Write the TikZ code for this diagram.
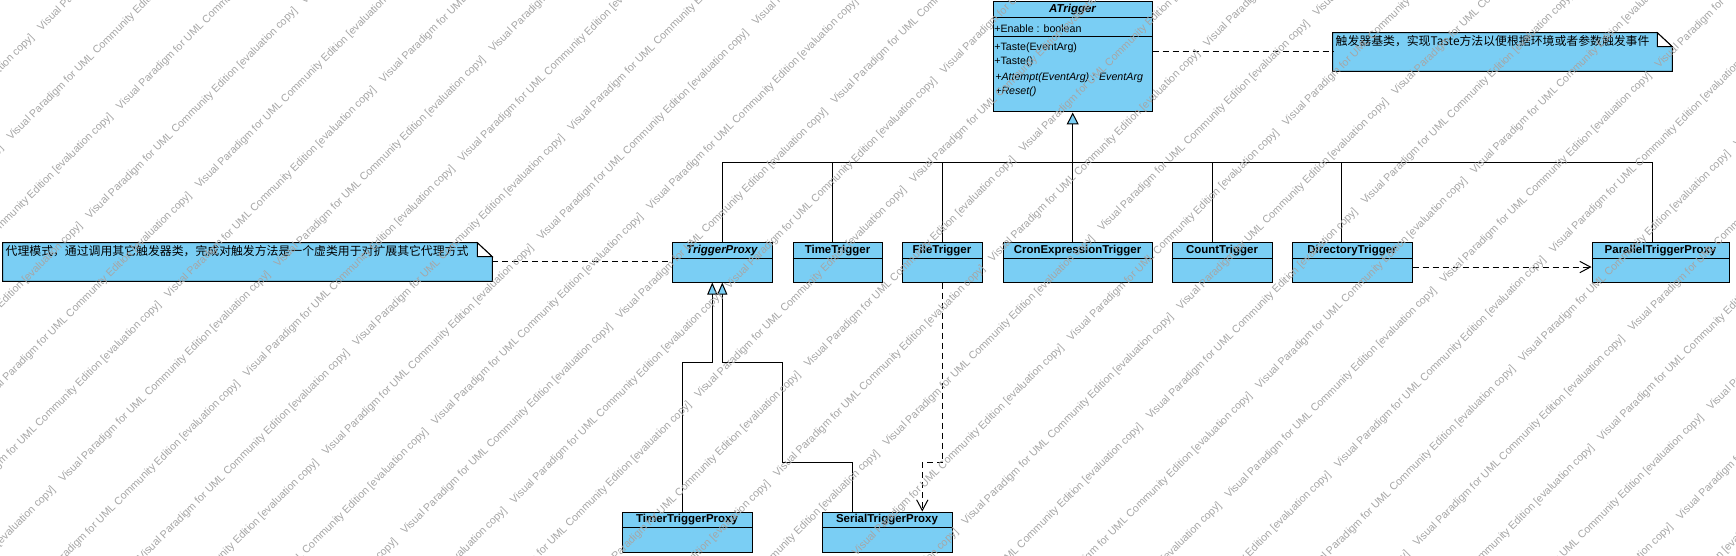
\documentclass[tikz,border=0pt]{standalone}
\usepackage{fontspec}
\setmainfont{Liberation Sans}
\newfontfamily\cjkfont{Noto Sans CJK SC}
\usetikzlibrary{arrows.meta,fit}
\definecolor{umlfill}{RGB}{122,206,244}
\newcommand\umlbox[6]{%
  \node[classbox, fit={(#2,#3) (#4,#5)}] (#1) {};
  \draw[thinline] ([yshift=-12pt]#1.north west) -- ([yshift=-12pt]#1.north east);
  \node[ctitle] (#1-t) at ([yshift=-6.3pt]#1.north) {#6};
}
\newcommand\umlnote[6]{%
  \node[inner sep=0pt, fit={(#2,#3) (#4,#5)}] (#1) {};
  \draw[notebox] (#1.north west) -- ([xshift=-11.25pt]#1.north east) -- ([yshift=-10.5pt]#1.north east) -- (#1.south east) -- (#1.south west) -- cycle;
  \draw[thinline, fill=white] ([xshift=-11.25pt]#1.north east) -- ([xshift=-11.25pt,yshift=-10.5pt]#1.north east) -- ([yshift=-10.5pt]#1.north east) -- cycle;
  \node[notetext] (#1-t) at ([xshift=2pt,yshift=-6.1pt]#1.north west) {#6};
}
\begin{document}
\begin{tikzpicture}[x=0.75pt,y=-0.75pt,
  classbox/.style={draw=black,fill=umlfill,line width=0.75pt,inner sep=0pt},
  thinline/.style={draw=black,line width=0.75pt},
  notebox/.style={draw=black,fill=umlfill,line width=0.75pt},
  ctitle/.style={inner sep=0pt,font=\bfseries\fontsize{8.6}{10}\selectfont},
  member/.style={anchor=west,inner sep=0pt,font=\fontsize{8}{10}\selectfont},
  notetext/.style={anchor=west,inner sep=0pt,font=\cjkfont\fontsize{8.9}{11}\selectfont},
  conn/.style={draw=black,line width=0.75pt},
  gentip/.style={conn,-{Triangle[length=9pt,width=9pt,fill=umlfill]}},
  gentipsmall/.style={conn,-{Triangle[length=9pt,width=7.5pt,fill=umlfill]}},
  dep/.style={conn,dash pattern=on 4.5pt off 3pt},
  deparrow/.style={dep,-{Straight Barb[length=8pt,width=8.5pt]}},
  wm/.style={rotate=45,anchor=base west,inner sep=0pt,text=black!35,font=\fontsize{8}{9.6}\selectfont}
]
\fill[white] (0,0) rectangle (1736,556);
\useasboundingbox (0,0) rectangle (1736,556);

% classes
\umlbox{atrigger}{993}{2}{1152}{112}{\itshape ATrigger}
\draw[thinline] ([yshift=-26.25pt]atrigger.north west) -- ([yshift=-26.25pt]atrigger.north east);
\node[member] (m-enable) at (994,28.3) {+Enable : boolean};
\node[member] (m-taste1) at (994,47.7) {+Taste(EventArg)};
\node[member] (m-taste2) at (994,61.7) {+Taste()};
\node[member,font=\itshape\fontsize{8}{10}\selectfont] (m-attempt) at (995,77.7) {+Attempt(EventArg) : EventArg};
\node[member,font=\itshape\fontsize{8}{10}\selectfont] (m-reset) at (995,91.7) {+Reset()};

\umlbox{proxy}{672}{243}{772}{282}{\itshape TriggerProxy}
\umlbox{time}{793}{243}{882}{282}{TimeTrigger}
\umlbox{file}{902}{243}{982}{282}{FileTrigger}
\umlbox{cron}{1003}{243}{1152}{282}{CronExpressionTrigger}
\umlbox{count}{1172}{243}{1272}{282}{CountTrigger}
\umlbox{dir}{1292}{243}{1412}{282}{DirectoryTrigger}
\umlbox{par}{1592}{243}{1729}{282}{ParallelTriggerProxy}
\umlbox{timer}{622}{512}{752}{552}{TimerTriggerProxy}
\umlbox{serial}{822}{512}{952}{552}{SerialTriggerProxy}

% notes
\umlnote{tnote}{1333}{33}{1672}{71}{触发器基类，实现Taste方法以便根据环境或者参数触发事件}
\umlnote{pnote}{3}{243}{492}{281}{代理模式，通过调用其它触发器类，完成对触发方法是一个虚类用于对扩展其它代理方式}

% generalization tree to ATrigger
\coordinate (hub) at (1072.7,162.3);
\coordinate (jproxy) at (722.7,162.3);
\coordinate (jtime) at (832.3,162.3);
\coordinate (jfile) at (942.3,162.3);
\coordinate (jcount) at (1212.4,162.3);
\coordinate (jdir) at (1341.9,162.3);
\coordinate (jpar) at (1652.4,162.3);
\draw[gentip] (cron.north -| hub) -- (atrigger.south -| hub);
\draw[conn] (jproxy) -- (jpar);
\foreach \n/\j in {proxy/jproxy,time/jtime,file/jfile,count/jcount,dir/jdir,par/jpar}
  \draw[conn] (\n.north -| \j) -- (\j);

% generalizations to TriggerProxy
\coordinate (ta) at (682.3,362.3);
\coordinate (tb) at (712.3,362.3);
\draw[gentipsmall] (timer.north -| ta) -- (ta) -- (tb) -- (proxy.south -| tb);
\coordinate (sa) at (852.3,462.3);
\coordinate (sb) at (782.3,462.3);
\coordinate (sc) at (782.3,362.3);
\coordinate (sd) at (722.3,362.3);
\draw[gentipsmall] (serial.north -| sa) -- (sa) -- (sb) -- (sc) -- (sd) -- (proxy.south -| sd);

% dependencies
\coordinate (fa) at (942.7,462.3);
\coordinate (fb) at (922.3,462.3);
\draw[deparrow] (file.south -| fa) -- (fa) -- (fb) -- (serial.north -| fb);
\draw[deparrow] ([yshift=-3.4pt]dir.east) -- ([yshift=-3.4pt]dir.east -| par.west);

% note anchors
\draw[dep] (atrigger.east |- tnote.west) -- (tnote.west);
\draw[dep] (pnote.east) -- (pnote.east -| proxy.west);

% watermark
\begin{scope}
\clip (0,0) rectangle (1736,556);
\foreach \k in {0,...,30}{
  \pgfmathsetmacro\c{-5.8+78.8*\k}
  \pgfmathsetmacro\doff{Mod(\k,2)==1 ? 10 : 300}
  \foreach \m in {-3,...,5}{
    \pgfmathsetmacro\wx{(\c+\doff+430*\m)/2}
    \pgfmathsetmacro\wy{(\c-\doff-430*\m)/2}
    \pgfmathtruncatemacro\ok{and(and(\wx>-215,\wx<1740),and(\wy>-5,\wy<775))}
    \ifnum\ok=1
      \node[wm] (wm-\k-\m) at (\wx,\wy) {Visual Paradigm for UML Community Edition [evaluation copy]};
    \fi
  }
}
\end{scope}
\end{tikzpicture}
\end{document}
